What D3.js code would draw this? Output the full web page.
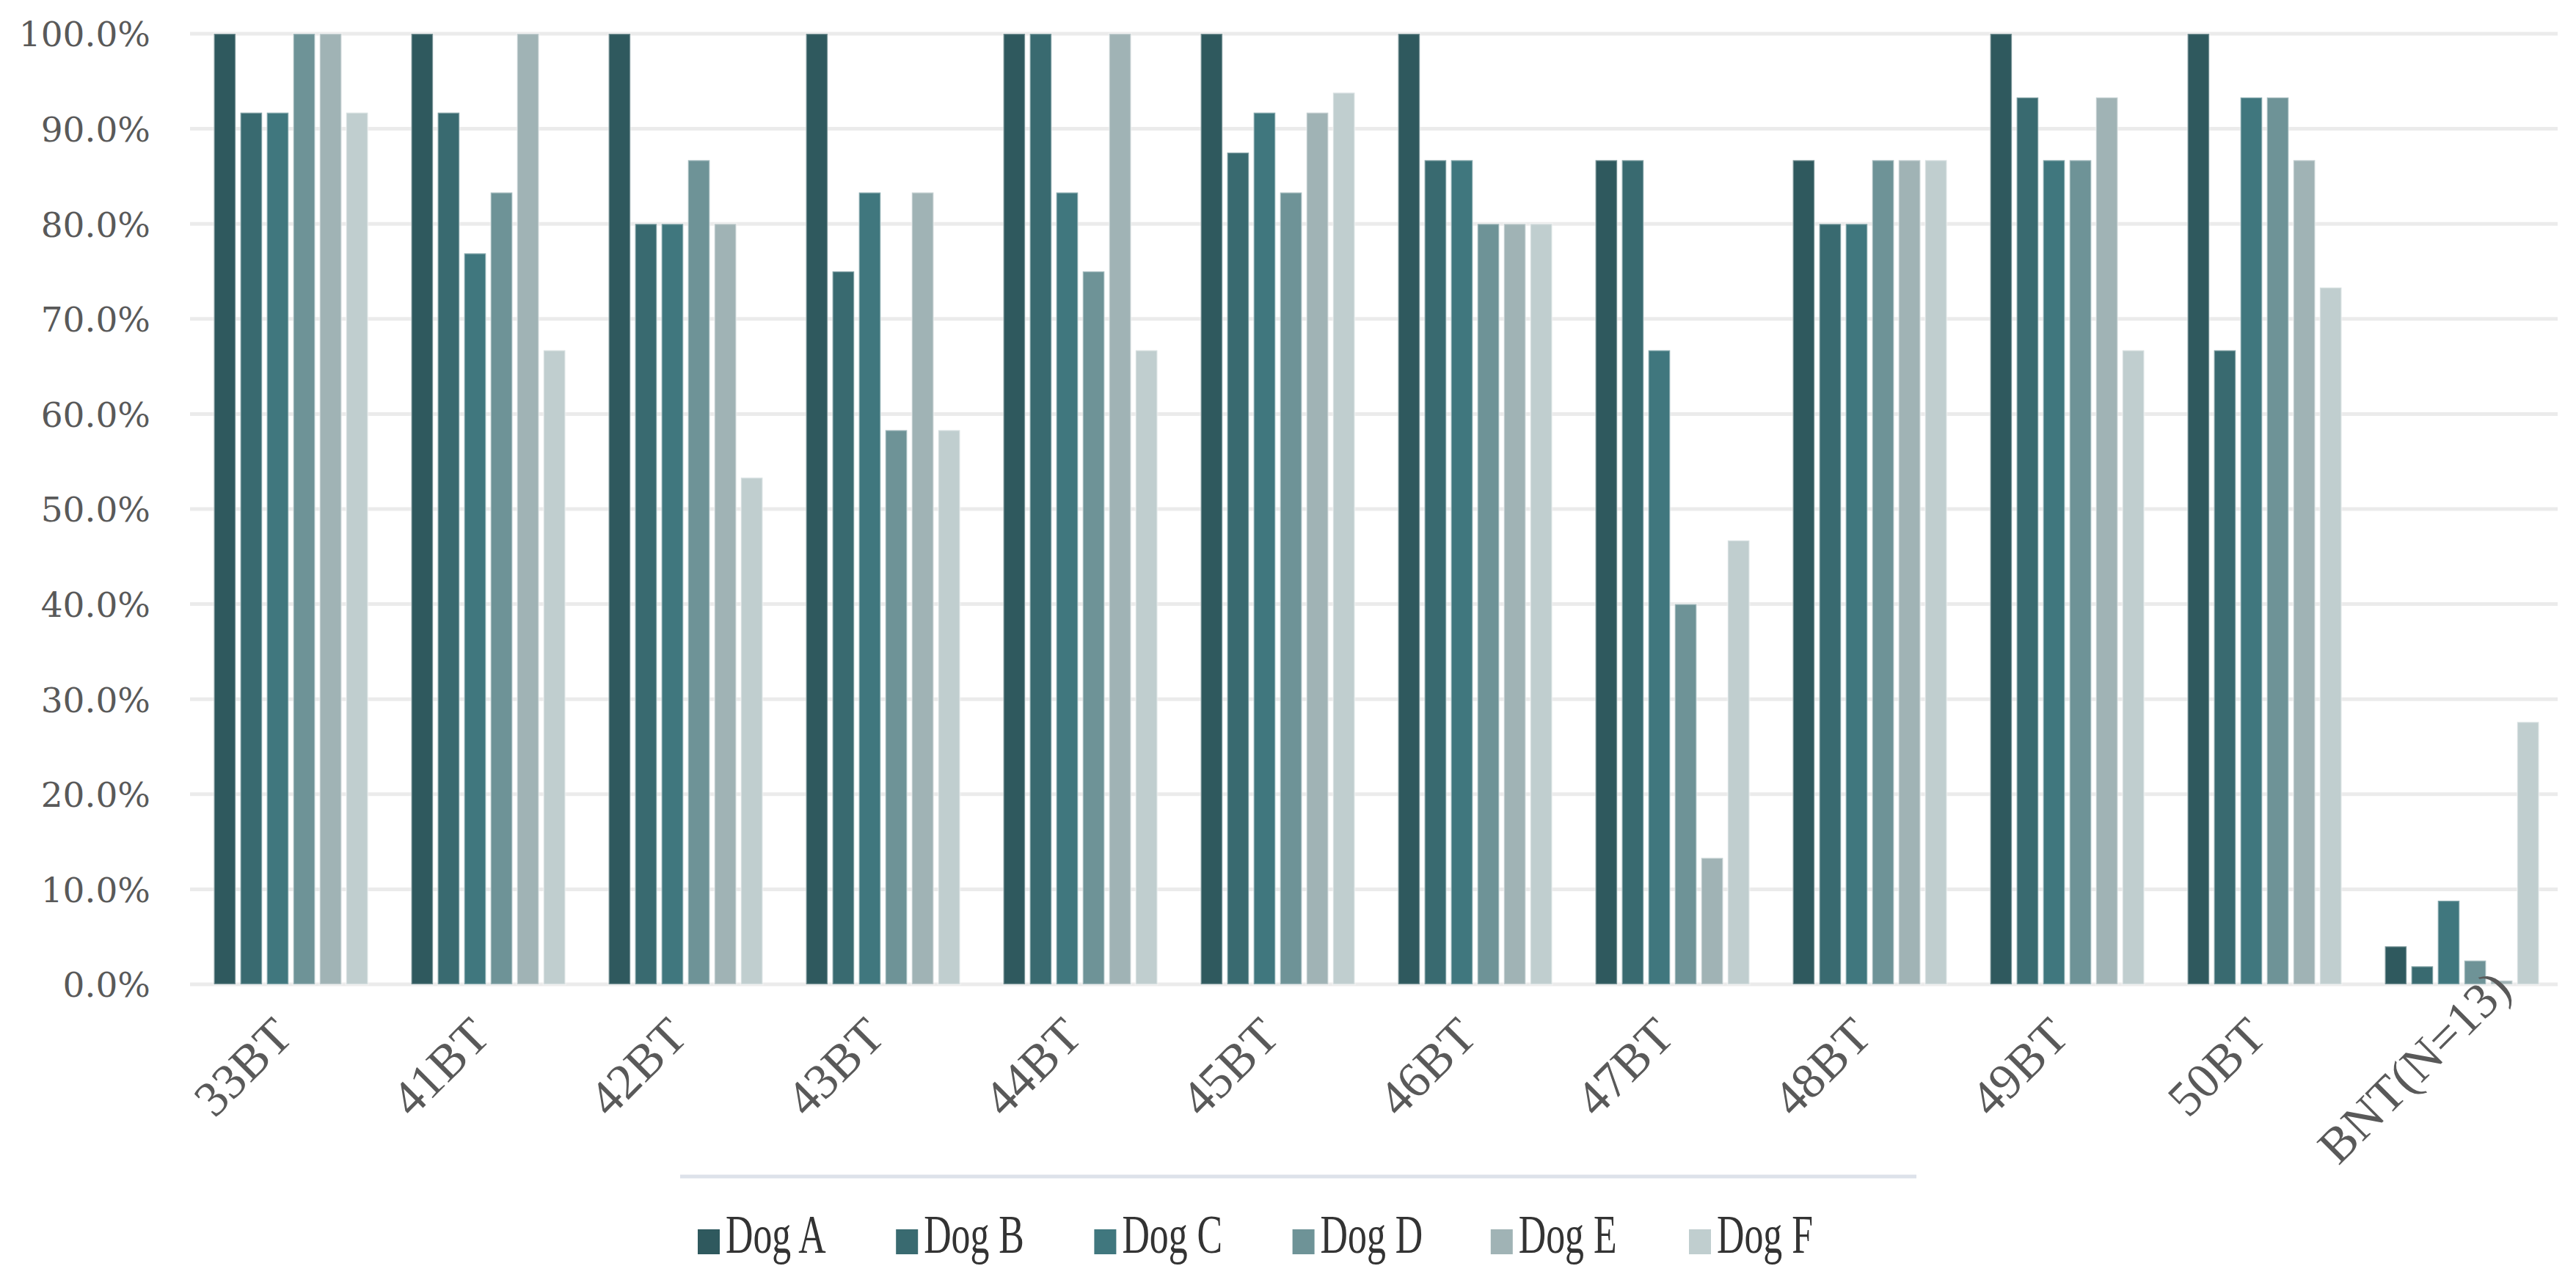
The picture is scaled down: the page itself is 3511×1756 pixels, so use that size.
<!DOCTYPE html>
<html>
<head>
<meta charset="utf-8">
<script src="https://cdn.jsdelivr.net/npm/d3@7"></script>
<style>
  body { margin: 0; background: #fff; }
  svg { display: block; }
</style>
</head>
<body>
<div id="chart"></div>
<script>
// categories on the x axis
const categories = ["33BT", "41BT", "42BT", "43BT", "44BT", "45BT", "46BT", "47BT", "48BT", "49BT", "50BT", "BNT(N=13)"];
const seriesNames = ["Dog A", "Dog B", "Dog C", "Dog D", "Dog E", "Dog F"];

// values in percent, one array per dog
const dogA = [100, 100, 100, 100, 100, 100, 100, 86.7, 86.7, 100, 100, 4.0];
const dogB = [91.7, 91.7, 80.0, 75.0, 100, 87.5, 86.7, 86.7, 80.0, 93.3, 66.7, 1.9];
const dogC = [91.7, 76.9, 80.0, 83.3, 83.3, 91.7, 86.7, 66.7, 80.0, 86.7, 93.3, 8.8];
const dogD = [100, 83.3, 86.7, 58.3, 75.0, 83.3, 80.0, 40.0, 86.7, 86.7, 93.3, 2.5];
const dogE = [100, 100, 80.0, 83.3, 100, 91.7, 80.0, 13.3, 86.7, 93.3, 86.7, 0.4];
const dogF = [91.7, 66.7, 53.3, 58.3, 66.7, 93.8, 80.0, 46.7, 86.7, 66.7, 73.3, 27.6];

const yTicks = [0, 10, 20, 30, 40, 50, 60, 70, 80, 90, 100];
const colors = ["#2f595e", "#396a70", "#40777e", "#6e9397", "#a0b3b5", "#c0cecf"];

const allSeries = [dogA, dogB, dogC, dogD, dogE, dogF];

// size of the page / plot
const W = 3511, H = 1756;
const plot = { left: 259, right: 3486, top: 46, bottom: 1342 };

const svg = d3.select("#chart")
  .append("svg")
  .attr("width", W)
  .attr("height", H);

svg.append("rect").attr("width", W).attr("height", H).attr("fill", "#fff");

const y = d3.scaleLinear()
  .domain([0, 100])
  .range([plot.bottom, plot.top]);

const x0 = d3.scaleBand()
  .domain(categories)
  .range([262, 3490])
  .paddingInner(0.22)
  .paddingOuter(0.11);

const x1 = d3.scaleBand()
  .domain(seriesNames)
  .range([0, x0.bandwidth()])
  .paddingInner(0.18);

const color = d3.scaleOrdinal().domain(seriesNames).range(colors);

// gridlines
svg.append("g")
  .selectAll("line")
  .data(yTicks)
  .join("line")
  .attr("x1", plot.left)
  .attr("x2", plot.right)
  .attr("y1", d => y(d))
  .attr("y2", d => y(d))
  .attr("stroke", "#ebebeb")
  .attr("stroke-width", 5);

// y axis labels
const yAxis = svg.append("g")
  .attr("transform", `translate(${plot.left},0)`)
  .call(d3.axisLeft(y).tickValues(yTicks).tickSize(0).tickPadding(54)
    .tickFormat(d => d.toFixed(1) + "%"));
yAxis.select(".domain").remove();
yAxis.selectAll("text")
  .attr("font-family", "'DejaVu Serif', Georgia, serif")
  .attr("font-size", 47)
  .attr("fill", "#595959")
  .attr("dy", "0.36em");

// bars
const rows = categories.map((c, i) => ({
  cat: c,
  values: seriesNames.map((s, j) => ({ key: s, value: allSeries[j][i] }))
}));

svg.append("g")
  .selectAll("g")
  .data(rows)
  .join("g")
  .attr("transform", d => `translate(${x0(d.cat)},0)`)
  .selectAll("rect")
  .data(d => d.values)
  .join("rect")
  .attr("x", d => x1(d.key))
  .attr("y", d => y(d.value))
  .attr("width", x1.bandwidth())
  .attr("height", d => y(0) - y(d.value))
  .attr("fill", d => color(d.key))
  .attr("stroke", "#ffffff")
  .attr("stroke-opacity", 0.35)
  .attr("stroke-width", 2.5);

// x axis labels, rotated around their middle
const xAxis = svg.append("g")
  .attr("transform", `translate(0,${plot.bottom})`)
  .call(d3.axisBottom(x0).tickSize(0));
xAxis.select(".domain").remove();
xAxis.selectAll("text")
  .attr("font-family", "'Liberation Serif', 'Times New Roman', serif")
  .attr("font-size", 68)
  .attr("fill", "#595959")
  .attr("text-anchor", "middle")
  .attr("x", 0)
  .attr("y", 0)
  .attr("dy", "0.35em")
  .attr("transform", "translate(-66,112) rotate(-45)");

// legend
svg.append("line")
  .attr("x1", 927).attr("x2", 2612)
  .attr("y1", 1604).attr("y2", 1604)
  .attr("stroke", "#dde2ea")
  .attr("stroke-width", 5);

const lx = d3.scalePoint().domain(seriesNames).range([951, 2302]);

const legend = svg.append("g")
  .selectAll("g")
  .data(seriesNames)
  .join("g")
  .attr("transform", d => `translate(${lx(d)},1676)`);

legend.append("rect")
  .attr("width", 30)
  .attr("height", 34)
  .attr("fill", d => color(d));

// legend text in the reference is narrow and tall
legend.append("text")
  .attr("x", 38)
  .attr("y", 32)
  .attr("font-family", "'Liberation Serif', 'Times New Roman', serif")
  .attr("font-size", 74)
  .attr("fill", "#333")
  .text(d => d)
  .each(function () {
    const w = this.getComputedTextLength();
    d3.select(this).attr("textLength", w * 0.7).attr("lengthAdjust", "spacingAndGlyphs");
  });
</script>
</body>
</html>
